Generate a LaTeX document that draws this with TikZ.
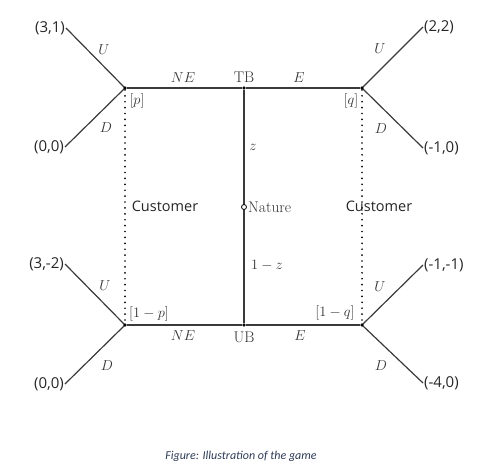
\documentclass[tikz,border=0pt]{standalone}
\usepackage{fontspec}
\newfontfamily\payf{Open Sans}
\newfontfamily\capf{Carlito}
\definecolor{edge}{HTML}{3A3A3A}
\definecolor{capcol}{HTML}{2E3B57}
\begin{document}
\begin{tikzpicture}[x=1pt,y=-1pt,
  branch/.style={draw=edge,line width=1.2pt},
  infoset/.style={draw=black,line width=1.9pt,line cap=round,dash pattern=on 0pt off 5.9pt},
  dec/.style={circle,fill=black,inner sep=0pt,minimum size=3.4pt},
  chance/.style={circle,draw=black,fill=white,line width=0.8pt,inner sep=0pt,minimum size=5pt},
  pay/.style={font=\payf\fontsize{15}{17}\selectfont,inner sep=1pt,text=black!85},
  lbl/.style={font=\fontsize{15.5}{17}\selectfont,inner sep=0pt,text=black!80},
  who/.style={font=\payf\fontsize{14.5}{16}\selectfont,inner sep=0pt,text=black!85}]
\useasboundingbox (0,0) rectangle (481,474);
% decision nodes
\node[dec] (tl) at (125,88) {};
\node[dec] (tb) at (244,88) {};
\node[dec] (tr) at (362,88) {};
\node[dec] (bl) at (125,325) {};
\node[dec] (ub) at (244,325) {};
\node[dec] (br) at (362,325) {};
% payoffs
\node[pay,anchor=east] (p1) at (66,28) {(3,1)};
\node[pay,anchor=east] (p2) at (65,147) {(0,0)};
\node[pay,anchor=east] (p3) at (65,264) {(3,-2)};
\node[pay,anchor=east] (p4) at (65,384) {(0,0)};
\node[pay,anchor=west] (p5) at (423,27) {(2,2)};
\node[pay,anchor=west] (p6) at (423,148) {(-1,0)};
\node[pay,anchor=west] (p7) at (423,265) {(-1,-1)};
\node[pay,anchor=west] (p8) at (423,383) {(-4,0)};
% information sets
\draw[infoset] (tl) -- (bl);
\draw[infoset] (tr) -- (br);
% branches
\draw[branch] (tl) -- (tb);
\draw[branch] (tb) -- (tr);
\draw[branch] (bl) -- (ub);
\draw[branch] (ub) -- (br);
\draw[branch] (tb) -- (ub);
\draw[branch] (tl.center) -- (p1.east);
\draw[branch] (tl.center) -- (p2.east);
\draw[branch] (bl.center) -- (p3.east);
\draw[branch] (bl.center) -- (p4.east);
\draw[branch] (tr.center) -- (p5.west);
\draw[branch] (tr.center) -- (p6.west);
\draw[branch] (br.center) -- (p7.west);
\draw[branch] (br.center) -- (p8.west);
\node[dec] at (tl) {};
\node[dec] at (tb) {};
\node[dec] at (tr) {};
\node[dec] at (bl) {};
\node[dec] at (ub) {};
\node[dec] at (br) {};
\node[chance] (nat) at (244,207) {};
% labels
\node[lbl] (u1) at (104,50) {$U$};
\node[lbl] (d1) at (106,128) {$D$};
\node[lbl] (ne1) at (183,78) {$NE$};
\node[lbl] (tbl) at (244,77) {TB};
\node[lbl] (e1) at (299,78) {$E$};
\node[lbl] (u2) at (380,49) {$U$};
\node[lbl] (d2) at (381,129) {$D$};
\node[lbl] (pl) at (137,101) {$[p]$};
\node[lbl] (ql) at (351,101) {$[q]$};
\node[lbl] (zl) at (253,147) {$z$};
\node[lbl,anchor=west] (natl) at (248,207) {Nature};
\node[who] (c1) at (165,206) {Customer};
\node[who] (c2) at (379,206) {Customer};
\node[lbl] (omz) at (267,265) {$1-z$};
\node[lbl] (pl2) at (149,314) {$[1-p]$};
\node[lbl] (ql2) at (335,313) {$[1-q]$};
\node[lbl] (ne2) at (183,336) {$NE$};
\node[lbl] (ubl) at (244,337) {UB};
\node[lbl] (e2) at (300,336) {$E$};
\node[lbl] (u3) at (105,286) {$U$};
\node[lbl] (d3) at (107,366) {$D$};
\node[lbl] (u4) at (380,287) {$U$};
\node[lbl] (d4) at (381,366) {$D$};
% caption
\node[font=\capf\itshape\fontsize{12}{14}\selectfont,text=capcol,inner sep=0pt] (cap) at (241,456) {Figure: Illustration of the game};
\end{tikzpicture}
\end{document}
